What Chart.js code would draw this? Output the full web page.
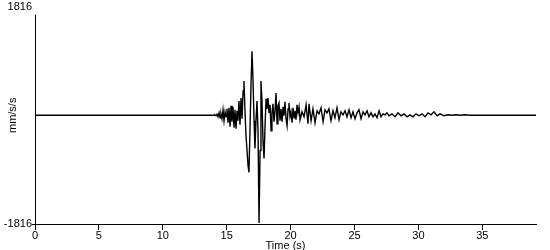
<!DOCTYPE html>
<html><head><meta charset="utf-8">
<script src="https://cdn.jsdelivr.net/npm/chart.js@4/dist/chart.umd.min.js"></script>
<style>html,body{margin:0;padding:0;background:#fff}#c{display:block}</style>
</head><body>
<canvas id="c" width="550" height="250"></canvas>
<script>
// Time (s) of each reading
const times = [
 0,0.5,1.0,1.5,2.0,2.5,3.0,4.0,5.0,5.5,6.0,6.5,7.0,7.5,8.0,8.5,9.0,9.5,10.0,10.5,11.0,11.5,12.0,12.5,13.0,13.5,
 14.01,14.08,14.16,14.24,14.32,14.40,14.48,14.55,14.63,14.71,14.79,14.87,14.95,15.02,15.10,15.18,15.26,15.34,15.41,15.49,
 15.57,15.65,15.73,15.81,15.88,15.96,16.04,16.12,16.20,16.28,16.35,16.43,16.51,16.59,16.67,16.74,16.82,16.90,16.98,17.06,
 17.14,17.21,17.29,17.37,17.45,17.53,17.61,17.68,17.76,17.84,17.92,18.00,18.08,18.15,18.23,18.31,18.39,18.47,18.54,18.62,
 18.70,18.78,18.86,18.94,19.01,19.09,19.17,19.25,19.33,19.41,19.48,19.56,19.64,19.72,19.80,19.87,19.95,20.03,20.11,20.19,
 20.27,20.34,20.42,20.50,20.58,20.66,20.74,
 20.89,21.05,21.21,21.36,21.44,21.60,21.75,21.91,22.07,22.22,22.38,22.54,22.69,22.85,23.00,23.16,23.32,23.47,23.63,23.79,
 23.94,24.10,24.26,24.41,24.57,24.73,24.88,25.04,25.20,25.35,25.51,25.67,25.82,25.98,26.13,26.29,26.45,26.60,26.76,26.92,
 27.07,27.23,27.39,27.54,27.70,27.93,28.17,28.40,28.64,28.87,29.11,29.34,29.58,29.81,30.05,30.28,30.52,30.75,30.99,31.22,
 31.46,31.69,32.00,32.32,32.63,32.94,33.26,33.65,34.04,34.82,36.38,37.95,39.20
];
// Acceleration (mm/s/s) at each time
const accel = [
 0,0,0,0,0,0,0,0,0,0,0,0,0,0,0,0,0,0,0,0,0,0,0,0,0,0,
 0,8,-8,17,-25,41,-41,25,-58,91,-91,58,-25,108,-124,124,-191,158,-108,141,
 -207,91,-224,75,-91,240,-158,290,-58,406,572,75,-340,-589,-837,-953,-257,489,1069,572,
 -91,-555,-91,240,-257,-1799,-589,572,240,-423,-721,-174,274,108,290,41,174,-257,41,191,
 -108,75,373,-141,158,207,-91,108,-108,141,-8,224,-58,-174,108,207,-25,58,-124,124,
 -41,75,-75,174,41,141,-75,
 58,-25,174,-141,191,-91,108,-124,75,25,124,-108,91,41,108,-91,75,-41,124,-75,
 58,8,75,-25,91,-41,58,-58,41,91,-58,58,8,75,-25,41,-25,25,-41,75,
 -25,25,8,41,-8,25,-25,41,-8,25,-25,8,-25,25,-8,25,-25,41,8,58,
 -8,25,-8,8,0,8,0,8,0,0,0,0,0
];
const xTickValues = [0,5,10,15,20,25,30,35];
const yTickValues = [-1816,1816];
const xMax = 39.2;
const xTitle = 'Time (s)';
const yTitle = 'mm/s/s';

const points = times.map((t,i)=>({x:t,y:accel[i]}));
const font = {family:'"Liberation Sans", Arial, sans-serif', size:11};

const yAxisLine = {
  id:'yAxisLine',
  afterDraw(chart){
    const a = chart.chartArea, ctx = chart.ctx;
    ctx.save();
    ctx.strokeStyle = '#000'; ctx.lineWidth = 1;
    ctx.beginPath();
    ctx.moveTo(Math.round(a.left)+0.5, a.top+8);
    ctx.lineTo(Math.round(a.left)+0.5, Math.round(a.bottom)+1);
    ctx.stroke();
    ctx.restore();
  }
};

new Chart(document.getElementById('c'), {
  type:'line',
  data:{datasets:[{data:points, borderColor:'#000', borderWidth:1.4, pointRadius:0, tension:0, fill:false}]},
  options:{
    animation:false, responsive:false, devicePixelRatio:1,
    layout:{padding:{left:0,right:14,top:5,bottom:0}},
    plugins:{legend:{display:false}, tooltip:{enabled:false}},
    scales:{
      x:{type:'linear', min:0, max:xMax,
        afterBuildTicks:s=>{s.ticks = xTickValues.map(v=>({value:v}));},
        afterFit:s=>{s.height = 26;},
        ticks:{font, color:'#000', padding:-1, maxRotation:0, autoSkip:false, callback:v=>String(v)},
        grid:{display:true, drawOnChartArea:false, drawTicks:true, tickLength:6, color:'#000'},
        border:{display:true, color:'#000', width:1},
        title:{display:true, text:xTitle, font, color:'#000', padding:{top:0,bottom:-3}}
      },
      y:{type:'linear', min:yTickValues[0], max:yTickValues[1],
        afterBuildTicks:s=>{s.ticks = yTickValues.map(v=>({value:v}));},
        afterFit:s=>{s.width = 35;},
        ticks:{font, color:'#000', padding:0, autoSkip:false, callback:v=>String(v)},
        grid:{display:true, drawOnChartArea:false, drawTicks:true, tickLength:3,
          color:c=> (c.tick && c.tick.value===yTickValues[0]) ? '#000' : 'rgba(0,0,0,0)'},
        border:{display:false},
        title:{display:true, text:yTitle, font, color:'#000', padding:{top:6,bottom:0}}
      }
    }
  },
  plugins:[yAxisLine]
});
</script>
</body></html>
